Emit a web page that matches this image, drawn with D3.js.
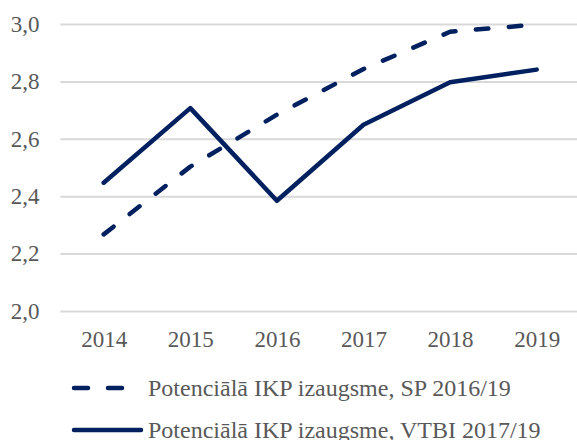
<!DOCTYPE html>
<html>
<head>
<meta charset="utf-8">
<script src="https://cdn.jsdelivr.net/npm/d3@7"></script>
<style>
  html, body { margin: 0; padding: 0; background: #fff; }
  svg { display: block; }
</style>
</head>
<body>
<svg id="chart" width="577" height="440"></svg>
<script>
const years = ["2014", "2015", "2016", "2017", "2018", "2019"];
const seriesSP = [2.267, 2.503, 2.684, 2.843, 2.973, 2.998];
const seriesVTBI = [2.447, 2.707, 2.384, 2.649, 2.797, 2.841];
const yTicks = [2.0, 2.2, 2.4, 2.6, 2.8, 3.0];
const seriesNames = ["Potenciālā IKP izaugsme, SP 2016/19", "Potenciālā IKP izaugsme, VTBI 2017/19"];

(function () {
const svg = d3.select("#chart");
const plotLeft = 60.4, plotRight = 580, plotTop = 24, plotBottom = 311;
const navy = "#002060";
const textColor = "#595959";
const font = "'Liberation Serif', 'Times New Roman', serif";

const x = d3.scalePoint().domain(years).range([plotLeft, plotRight]).padding(0.5);
const y = d3.scaleLinear().domain([2, 3]).range([plotBottom, plotTop]);

// gridlines
const yAxis = d3.axisLeft(y).tickValues(yTicks)
  .tickFormat(d => d3.format(".1f")(d).replace(".", ","))
  .tickSize(-(plotRight - plotLeft)).tickPadding(21);
const gy = svg.append("g").attr("transform", `translate(${plotLeft},0)`).call(yAxis);
gy.select(".domain").remove();
gy.selectAll(".tick line").attr("stroke", "#d9d9d9").attr("stroke-width", 2);
gy.selectAll(".tick text").attr("fill", textColor).attr("font-family", font)
  .attr("font-size", 23).attr("dy", "0.32em");

// x axis labels
const xAxis = d3.axisBottom(x).tickSize(0).tickPadding(20);
const gx = svg.append("g").attr("transform", `translate(0,${plotBottom})`).call(xAxis);
gx.select(".domain").remove();
gx.selectAll(".tick text").attr("fill", textColor).attr("font-family", font)
  .attr("font-size", 23);

const line = d3.line().x((d, i) => x(years[i])).y(d => y(d));

svg.append("path").datum(seriesSP).attr("d", line)
  .attr("fill", "none").attr("stroke", navy).attr("stroke-width", 4.5)
  .attr("stroke-linecap", "round").attr("stroke-linejoin", "round")
  .attr("stroke-dasharray", "12.5,20.5");

svg.append("path").datum(seriesVTBI).attr("d", line)
  .attr("fill", "none").attr("stroke", navy).attr("stroke-width", 4.5)
  .attr("stroke-linecap", "round").attr("stroke-linejoin", "round");

// legend
const leg = svg.append("g");
const rows = [{name: seriesNames[0], dash: true, y: 388}, {name: seriesNames[1], dash: false, y: 430}];
rows.forEach(r => {
  if (r.dash) {
    leg.append("line").attr("x1", 74).attr("x2", 88).attr("y1", r.y).attr("y2", r.y)
      .attr("stroke", navy).attr("stroke-width", 4.5).attr("stroke-linecap", "round");
    leg.append("line").attr("x1", 108).attr("x2", 122).attr("y1", r.y).attr("y2", r.y)
      .attr("stroke", navy).attr("stroke-width", 4.5).attr("stroke-linecap", "round");
  } else {
    leg.append("line").attr("x1", 74).attr("x2", 141).attr("y1", r.y).attr("y2", r.y)
      .attr("stroke", navy).attr("stroke-width", 4.5).attr("stroke-linecap", "round");
  }
  leg.append("text").attr("x", 148).attr("y", r.y + 8).text(r.name)
    .attr("fill", textColor).attr("font-family", font).attr("font-size", 24);
});
})();
</script>
</body>
</html>
